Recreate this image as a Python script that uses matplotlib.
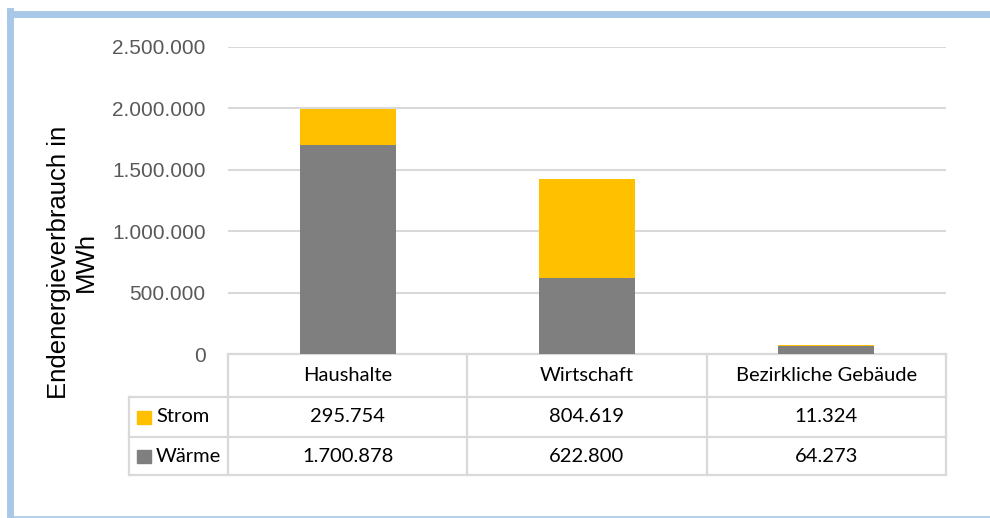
import matplotlib
matplotlib.use("Agg")
import matplotlib.pyplot as plt
from matplotlib.lines import Line2D
from matplotlib.patches import Rectangle

categories = ["Haushalte", "Wirtschaft", "Bezirkliche Gebäude"]
series_names = ["Strom", "Wärme"]
strom = [295754, 804619, 11324]
waerme = [1700878, 622800, 64273]
yticks = [0, 500000, 1000000, 1500000, 2000000, 2500000]

c_strom = "#FFC000"
c_waerme = "#7F7F7F"
grid_c = "#D9D9D9"
table_font = "Lato"
tfs = 14.5


def de_fmt(v):
    return f"{v:,.0f}".replace(",", ".")


fig = plt.figure(figsize=(9.9, 5.18), dpi=100)
W, H = 990, 518
ax = fig.add_axes([228 / W, 1 - 354 / H, (946 - 228) / W, (354 - 47) / H])

x = list(range(len(categories)))
ax.bar(x, waerme, width=0.4, color=c_waerme, zorder=3)
ax.bar(x, strom, width=0.4, bottom=waerme, color=c_strom, zorder=3)

ax.set_xlim(-0.5, 2.5)
ax.set_ylim(0, 2500000)
ax.set_yticks(yticks)
ax.set_yticklabels([de_fmt(v) for v in yticks], fontsize=15,
                   family="Liberation Sans", color="#595959")
ax.tick_params(axis="y", length=0, pad=16)
ax.set_xticks([])
for s in ax.spines.values():
    s.set_visible(False)
ax.grid(axis="y", color=grid_c, linewidth=1.5, zorder=0)

fig.text(72 / W, 1 - 262 / H, "Endenergieverbrauch in\nMWh", rotation=90,
         ha="center", va="center", fontsize=18.5, family="Liberation Sans",
         color="#000000", linespacing=1.15)

# data table under the axis (axes-fraction y)
ph = 354 - 47
def yf(py):
    return -(py - 354) / ph

tr = ax.get_xaxis_transform()
lw = 1.6
y0, y1, y2, y3 = yf(354), yf(397), yf(437), yf(475)
left_x = -0.5 - (228 - 129) / ((946 - 228) / 3)
# horizontal lines
ax.add_line(Line2D([-0.5, 2.5], [y0, y0], transform=tr, color=grid_c, lw=lw, clip_on=False))
for yy in (y1, y2, y3):
    ax.add_line(Line2D([left_x, 2.5], [yy, yy], transform=tr, color=grid_c, lw=lw, clip_on=False))
# vertical lines
for xx in (-0.5, 0.5, 1.5, 2.5):
    ax.add_line(Line2D([xx, xx], [y0, y3], transform=tr, color=grid_c, lw=lw, clip_on=False))
ax.add_line(Line2D([left_x, left_x], [y1, y3], transform=tr, color=grid_c, lw=lw, clip_on=False))

for i, cat in enumerate(categories):
    ax.text(i, (y0 + y1) / 2, cat, transform=tr, ha="center", va="center",
            fontsize=tfs, family=table_font, color="#000000")
    ax.text(i, (y1 + y2) / 2, de_fmt(strom[i]), transform=tr, ha="center",
            va="center", fontsize=tfs, family=table_font, color="#000000")
    ax.text(i, (y2 + y3) / 2, de_fmt(waerme[i]), transform=tr, ha="center",
            va="center", fontsize=tfs, family=table_font, color="#000000")

# legend keys in the table
cw = (946 - 228) / 3
for name, col, ya, yb in ((series_names[0], c_strom, y1, y2), (series_names[1], c_waerme, y2, y3)):
    ym = (ya + yb) / 2
    sq_h = 13 / ph
    ax.add_patch(Rectangle((left_x + 8 / cw, ym - sq_h / 2), 14 / cw, sq_h,
                           transform=tr, color=col, clip_on=False))
    ax.text(left_x + 27 / cw, ym, name, transform=tr, ha="left", va="center",
            fontsize=tfs, family=table_font, color="#000000")

# outer frame
bc = "#A9C8E8"
fig.add_artist(Line2D([10 / W, 1], [1 - 13.5 / H, 1 - 13.5 / H], color=bc, lw=5))
fig.add_artist(Line2D([10 / W, 10 / W], [0, 1 - 11 / H], color=bc, lw=5))
fig.add_artist(Line2D([10 / W, 1], [1 / H, 1 / H], color=bc, lw=1.2))

fig.savefig("out.png", dpi=100)
